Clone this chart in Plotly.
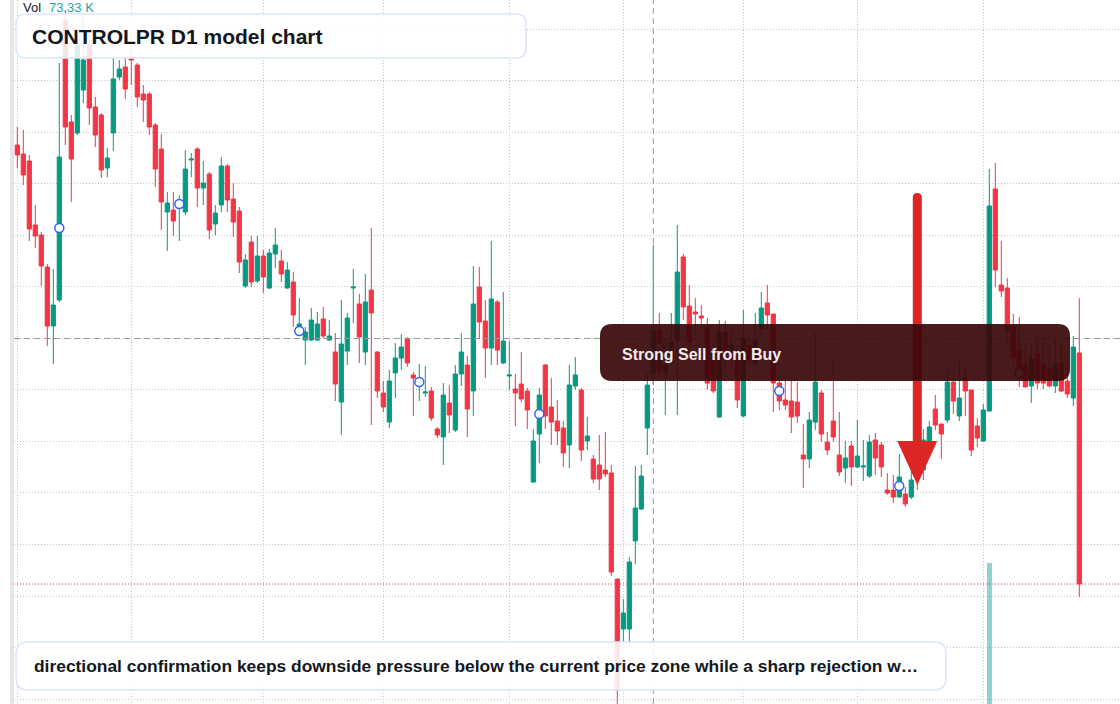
import plotly.graph_objects as go

# ---------------- data ----------------
opens = [855, 846, 839, 775, 765, 733, 674, 700, 980, 878,
         867, 910, 955, 893, 885, 832, 867, 923, 933, 943,
         935, 906, 906, 875, 851, 788, 790, 794, 788, 840,
         851, 812, 826, 776, 795, 834, 801, 789, 714, 758,
         719, 744, 712, 746, 739, 712, 718, 672, 660, 660,
         660, 681, 660, 648, 598, 649, 712, 696, 648, 710,
         648, 607, 578, 627, 642, 661, 625, 617, 607, 609,
         571, 563, 597, 570, 626, 635, 609, 713, 679, 652,
         698, 637, 624, 611, 616, 609, 518, 566, 635, 593,
         579, 572, 555, 614, 610, 559, 541, 535, 530, 527,
         421, 371, 371, 459, 491, 572, 627, 670, 627, 638,
         660, 743, 694, 688, 684, 673, 650, 583, 668, 650,
         640, 584, 655, 637, 671, 697, 686, 617, 600, 599,
         598, 545, 541, 578, 607, 558, 579, 545, 532, 554,
         533, 533, 524, 560, 555, 510, 510, 503, 506, 503,
         530, 530, 558, 591, 576, 580, 618, 584, 622, 610,
         574, 559, 589, 811, 715, 712, 673, 650, 635, 614,
         646, 635, 631, 614, 637, 619, 602, 647]
highs = [873, 870, 845, 795, 768, 736, 731, 937, 990, 885,
         965, 983, 965, 903, 887, 852, 942, 940, 942, 950,
         937, 915, 908, 877, 866, 808, 808, 805, 850, 847,
         853, 839, 828, 795, 843, 836, 817, 793, 746, 764,
         764, 750, 751, 772, 750, 738, 728, 702, 673, 692,
         688, 693, 680, 667, 700, 687, 731, 706, 726, 772,
         649, 619, 630, 657, 666, 663, 628, 636, 634, 613,
         573, 617, 615, 635, 667, 644, 734, 733, 700, 759,
         700, 708, 659, 626, 648, 612, 571, 612, 636, 622,
         600, 579, 635, 643, 612, 583, 545, 565, 568, 535,
         421, 401, 443, 534, 535, 627, 755, 687, 660, 687,
         775, 746, 715, 702, 695, 682, 660, 680, 679, 670,
         655, 690, 663, 687, 708, 715, 686, 627, 625, 623,
         618, 576, 588, 667, 610, 568, 641, 588, 559, 559,
         580, 560, 565, 567, 558, 527, 525, 546, 513, 532,
         545, 571, 579, 605, 576, 630, 627, 640, 632, 610,
         582, 596, 831, 837, 759, 722, 686, 683, 655, 655,
         660, 662, 655, 660, 655, 640, 664, 702]
lows = [832, 815, 759, 752, 714, 654, 636, 698, 855, 798,
        865, 897, 875, 853, 822, 823, 849, 920, 901, 915,
        893, 878, 865, 813, 770, 749, 764, 759, 785, 823,
        793, 795, 761, 765, 788, 788, 763, 727, 712, 713,
        717, 707, 711, 732, 718, 711, 673, 671, 635, 659,
        659, 662, 659, 599, 565, 635, 677, 637, 635, 575,
        602, 588, 572, 602, 630, 633, 584, 599, 603, 579,
        562, 535, 567, 568, 614, 563, 584, 662, 622, 635,
        635, 636, 610, 574, 598, 571, 517, 537, 571, 555,
        555, 533, 532, 610, 539, 550, 517, 510, 523, 424,
        295, 355, 353, 436, 490, 545, 615, 625, 585, 635,
        585, 680, 640, 665, 670, 610, 607, 582, 630, 635,
        592, 583, 635, 630, 665, 670, 588, 590, 590, 567,
        577, 512, 532, 570, 558, 545, 558, 524, 517, 514,
        532, 519, 522, 525, 523, 505, 497, 502, 493, 501,
        510, 520, 556, 570, 541, 577, 586, 579, 584, 544,
        553, 558, 588, 713, 703, 655, 635, 613, 613, 597,
        611, 611, 613, 607, 608, 602, 594, 403]
closes = [845, 825, 771, 764, 734, 674, 695, 843, 873, 841,
          955, 940, 892, 865, 830, 842, 921, 931, 911, 940,
          903, 900, 873, 831, 798, 797, 779, 800, 831, 841,
          812, 817, 770, 787, 834, 800, 778, 738, 740, 718,
          744, 723, 747, 755, 726, 730, 685, 676, 668, 680,
          676, 664, 664, 616, 656, 682, 713, 663, 698, 687,
          609, 593, 619, 642, 653, 637, 622, 619, 608, 582,
          565, 605, 585, 626, 648, 591, 696, 678, 652, 701,
          650, 659, 625, 607, 601, 590, 559, 605, 584, 578,
          569, 547, 615, 625, 550, 564, 521, 521, 526, 428,
          310, 387, 438, 492, 524, 615, 670, 630, 635, 658,
          728, 693, 658, 686, 682, 617, 609, 668, 650, 655,
          600, 662, 640, 660, 692, 685, 617, 599, 595, 583,
          584, 541, 580, 618, 566, 550, 563, 528, 542, 533,
          544, 534, 558, 542, 533, 507, 503, 523, 496, 520,
          522, 560, 573, 575, 566, 618, 599, 602, 609, 550,
          562, 590, 794, 730, 709, 670, 642, 630, 613, 641,
          617, 617, 614, 636, 609, 606, 653, 416]
bar_index = list(range(len(opens)))

# periodic signal markers
marker_index = [7, 27, 47, 67, 87, 107, 127, 147, 167]
marker_value = [772, 796, 669, 618, 586, 653, 609, 514, 627]

# volume (only one visible bar)
volume_index = [162]
volume_value = [1260000]

# month-start grid positions
month_index = [0, 19, 41, 61, 82, 101, 121, 140, 161]

# crosshair / signal
crosshair_index = 106
crosshair_price = 661.5
signal_index = 150
signal_top = 807
signal_tip = 515

title_text = "CONTROLPR D1 model chart"
signal_text = "Strong Sell from Buy"
footer_text = ("directional confirmation keeps downside pressure below the current "
               "price zone while a sharp rejection w\u2026")

# ---------------- styling helpers ----------------
W, H, LM = 1120, 704, 14
UP, DOWN = "#089981", "#f23645"
INK = "#131722"
FONT = "Liberation Sans, Arial, sans-serif"
GRID = "#c4c4c4"


def px(x):
    return (x - LM) / (W - LM)


def py(y):
    return 1 - y / H


def rrect(x0, y0, x1, y1, r):
    return (f"M {px(x0 + r)},{py(y0)} L {px(x1 - r)},{py(y0)} "
            f"Q {px(x1)},{py(y0)} {px(x1)},{py(y0 + r)} "
            f"L {px(x1)},{py(y1 - r)} Q {px(x1)},{py(y1)} {px(x1 - r)},{py(y1)} "
            f"L {px(x0 + r)},{py(y1)} Q {px(x0)},{py(y1)} {px(x0)},{py(y1 - r)} "
            f"L {px(x0)},{py(y0 + r)} Q {px(x0)},{py(y0)} {px(x0 + r)},{py(y0)} Z")


fig = go.Figure()

fig.add_trace(go.Bar(x=volume_index, y=volume_value, yaxis="y2", width=0.8,
                     marker=dict(color="rgba(38,166,154,0.5)", line=dict(width=0)),
                     showlegend=False, hoverinfo="skip"))

fig.add_trace(go.Candlestick(
    x=bar_index, open=opens, high=highs, low=lows, close=closes,
    increasing=dict(line=dict(color=UP, width=1), fillcolor=UP),
    decreasing=dict(line=dict(color=DOWN, width=1), fillcolor=DOWN),
    whiskerwidth=0, showlegend=False, hoverinfo="skip"))

fig.add_trace(go.Scatter(
    x=marker_index, y=marker_value, mode="markers",
    marker=dict(symbol="circle", size=9, color="white",
                line=dict(color="#2962ff", width=1.5)),
    showlegend=False, hoverinfo="skip"))

shapes = []
# gray left strip
shapes.append(dict(type="rect", xref="paper", yref="paper", x0=px(10), x1=px(14),
                   y0=0, y1=1, fillcolor="#e6e6e6", line=dict(width=0), layer="above"))
# crosshair
shapes.append(dict(type="line", xref="x", yref="paper", x0=crosshair_index, x1=crosshair_index,
                   y0=0, y1=1, line=dict(color="#9598a1", width=1, dash="6px,4px"), layer="above"))
shapes.append(dict(type="line", xref="paper", yref="y", x0=0, x1=1,
                   y0=crosshair_price, y1=crosshair_price,
                   line=dict(color="#9598a1", width=1, dash="6px,4px"), layer="above"))
# last price line
shapes.append(dict(type="line", xref="paper", yref="y", x0=0, x1=1,
                   y0=closes[-1], y1=closes[-1],
                   line=dict(color=DOWN, width=1, dash="1px,2px"), layer="above"))
# signal arrow (shaft + head)
hw = 4.5 / 6
head_base = signal_tip + 44
shapes.append(dict(type="path", xref="x", yref="y", layer="above",
                   path=(f"M {signal_index - hw},{head_base - 4} L {signal_index - hw},{signal_top - 4.5} "
                         f"Q {signal_index - hw},{signal_top} {signal_index},{signal_top} "
                         f"Q {signal_index + hw},{signal_top} {signal_index + hw},{signal_top - 4.5} "
                         f"L {signal_index + hw},{head_base - 4} Z"),
                   fillcolor="#dc2626", line=dict(width=0)))
shapes.append(dict(type="path", xref="x", yref="y", layer="above",
                   path=(f"M {signal_index - 20 / 6},{head_base} L {signal_index + 20 / 6},{head_base} "
                         f"L {signal_index},{signal_tip} Z"),
                   fillcolor="#dc2626", line=dict(width=0)))
# signal label box
shapes.append(dict(type="path", xref="paper", yref="paper", layer="above",
                   path=rrect(600, 324, 1070, 381, 12),
                   fillcolor="rgba(58,6,8,0.92)", line=dict(width=0)))
# title box
shapes.append(dict(type="path", xref="paper", yref="paper", layer="above",
                   path=rrect(16, 14, 526, 58, 10),
                   fillcolor="rgba(255,255,255,0.86)", line=dict(color="#dbe6fb", width=1.5)))
# footer box
shapes.append(dict(type="path", xref="paper", yref="paper", layer="above",
                   path=rrect(16, 642, 946, 690, 12),
                   fillcolor="rgba(255,255,255,0.88)", line=dict(color="#dbe6fb", width=1.5)))

annotations = [
    dict(text="Vol", x=px(21), y=py(8), xref="paper", yref="paper", xanchor="left",
         yanchor="middle", showarrow=False, font=dict(family=FONT, size=13, color=INK)),
    dict(text="73.33 K", x=px(47), y=py(8), xref="paper", yref="paper", xanchor="left",
         yanchor="middle", showarrow=False, font=dict(family=FONT, size=13, color="#26a69a")),
    dict(text=f"<b>{title_text}</b>", x=px(30), y=py(36), xref="paper", yref="paper",
         xanchor="left", yanchor="middle", showarrow=False,
         font=dict(family=FONT, size=21, color=INK)),
    dict(text=f"<b>{signal_text}</b>", x=px(620), y=py(354), xref="paper", yref="paper",
         xanchor="left", yanchor="middle", showarrow=False,
         font=dict(family=FONT, size=16, color="#f3ecec")),
    dict(text=f"<b>{footer_text}</b>", x=px(32), y=py(666), xref="paper", yref="paper",
         xanchor="left", yanchor="middle", showarrow=False,
         font=dict(family=FONT, size=17.4, color=INK)),
]

fig.update_layout(
    width=W, height=H, margin=dict(l=LM, r=0, t=0, b=0),
    paper_bgcolor="white", plot_bgcolor="white",
    showlegend=False, bargap=0, boxgap=0.3, boxgroupgap=0,
    xaxis=dict(range=[(LM - 17.3) / 6, (W - 17.3) / 6], tickmode="array", tickvals=month_index,
               showticklabels=False, showgrid=True, gridcolor=GRID, griddash="1px,2px",
               gridwidth=1, zeroline=False, showline=False, rangeslider=dict(visible=False)),
    yaxis=dict(range=[296, 1000], tick0=971, dtick=51.55, showticklabels=False,
               showgrid=True, gridcolor=GRID, griddash="1px,2px", gridwidth=1,
               zeroline=False, showline=False),
    yaxis2=dict(overlaying="y", range=[0, 6.3e6], visible=False, showgrid=False),
    shapes=shapes, annotations=annotations,
)

fig.write_html("out.html")
